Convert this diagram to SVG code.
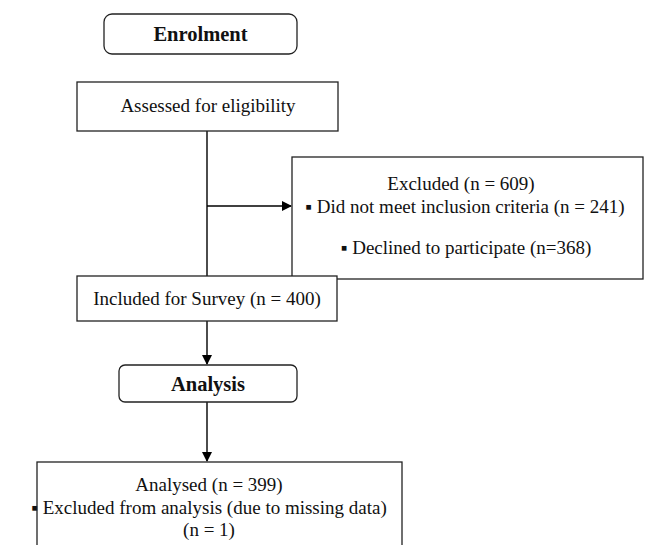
<svg xmlns="http://www.w3.org/2000/svg" width="650" height="545" viewBox="0 0 650 545">
<defs>
<marker id="ah" markerWidth="10" markerHeight="10" refX="9" refY="5" orient="auto" markerUnits="userSpaceOnUse">
<path d="M0,0 L10,5 L0,10 Z" fill="#000"/>
</marker>
<style>
.box{fill:#fff;stroke:#222;stroke-width:1.3}
.t{font-family:"Liberation Serif","Times New Roman",serif;font-size:19px;fill:#111;text-anchor:middle}
.b{font-weight:bold;font-size:20.5px}
.c{stroke:#000;stroke-width:1.4;fill:none}
</style>
</defs>
<rect width="650" height="545" fill="#fff"/>
<g id="connectors">
<line class="c" x1="207" y1="131" x2="207" y2="276"/>
<line class="c" x1="207" y1="206" x2="291" y2="206" marker-end="url(#ah)"/>
<line class="c" x1="207" y1="321" x2="207" y2="364" marker-end="url(#ah)"/>
<line class="c" x1="207" y1="402" x2="207" y2="461" marker-end="url(#ah)"/>
</g>
<g id="enrolment">
<rect class="box" x="104" y="14" width="193" height="40" rx="8"/>
<text class="t b" x="200.5" y="41">Enrolment</text>
</g>
<g id="assessed">
<rect class="box" x="77" y="82" width="261" height="49"/>
<text class="t" x="208" y="112">Assessed for eligibility</text>
</g>
<g id="excluded">
<rect class="box" x="292" y="157" width="351" height="122"/>
<text class="t" x="461" y="190">Excluded (n = 609)</text>
<text class="t" x="465" y="213">▪ Did not meet inclusion criteria (n = 241)</text>
<text class="t" x="466" y="254">▪ Declined to participate (n=368)</text>
</g>
<g id="included">
<rect class="box" x="77" y="276" width="260" height="45"/>
<text class="t" x="207" y="305">Included for Survey (n = 400)</text>
</g>
<g id="analysis">
<rect class="box" x="119" y="365" width="178" height="37" rx="6"/>
<text class="t b" x="208" y="391">Analysis</text>
</g>
<g id="analysed">
<rect class="box" x="37" y="462" width="365" height="90"/>
<text class="t" x="209" y="491">Analysed (n = 399)</text>
<text class="t" x="209" y="514">▪ Excluded from analysis (due to missing data)</text>
<text class="t" x="209" y="536">(n = 1)</text>
</g>
</svg>
